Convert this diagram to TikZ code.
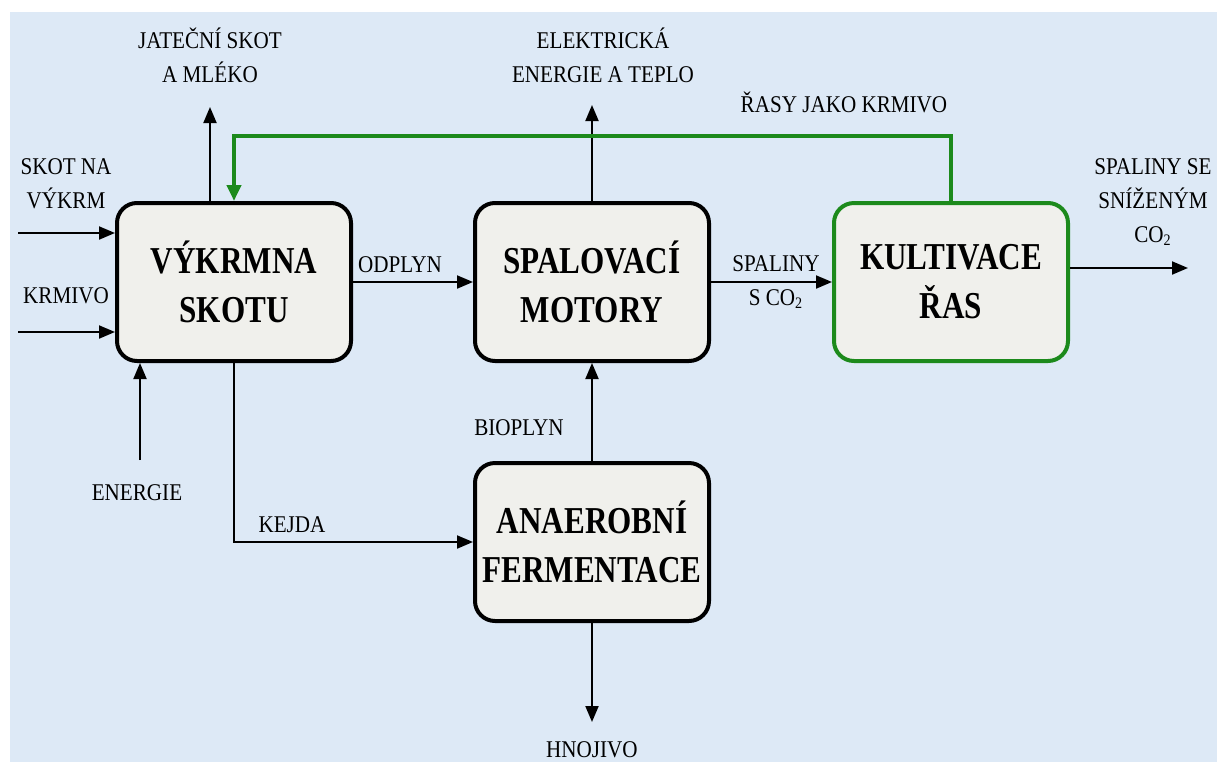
\documentclass[tikz,border=0pt]{standalone}
\usepackage{fontspec}
\setmainfont{Liberation Serif}
\usetikzlibrary{arrows.meta}
\definecolor{bgblue}{RGB}{221,233,246}
\definecolor{boxfill}{RGB}{240,240,236}
\definecolor{algae}{RGB}{28,138,28}
\begin{document}
\begin{tikzpicture}[x=0.5pt,y=-0.5pt,
  proc/.style={draw=black, line width=2pt, rounded corners=10pt, fill=boxfill,
    minimum width=117pt, minimum height=79pt, align=center, inner sep=0pt,
    font=\bfseries\fontsize{19}{24.5}\selectfont},
  lbl/.style={align=center, inner sep=0pt, font=\fontsize{12}{17}\selectfont},
  flow/.style={line width=1pt, -{Triangle[length=8pt,width=6.5pt]}},
  feed/.style={draw=algae, line width=2pt, -{Triangle[length=8pt,width=7pt]}}]
\useasboundingbox (0,0) rectangle (1217,762);
\fill[white] (0,0) rectangle (1217,762);
\fill[bgblue] (10,12) rectangle (1217,762);

% process boxes
\node[proc] (b1) at (234,282) {\scalebox{0.82}[1]{VÝKRMNA}\\\scalebox{0.82}[1]{SKOTU}};
\node[proc] (b2) at (592,282) {\scalebox{0.82}[1]{SPALOVACÍ}\\\scalebox{0.82}[1]{MOTORY}};
\node[proc, draw=algae] (b3) at (951,282) {\scalebox{0.82}[1]{KULTIVACE}\\\scalebox{0.82}[1]{ŘAS}};
\node[proc] (b4) at (592,542) {\scalebox{0.82}[1]{ANAEROBNÍ}\\\scalebox{0.82}[1]{FERMENTACE}};

% labels
\node[lbl] (jat) at (210,55) {\scalebox{0.88}[1]{JATEČNÍ SKOT}\\\scalebox{0.88}[1]{A MLÉKO}};
\node[lbl] (el) at (603,55) {\scalebox{0.88}[1]{ELEKTRICKÁ}\\\scalebox{0.88}[1]{ENERGIE A TEPLO}};
\node[lbl] (ras) at (844,102) {\scalebox{0.88}[1]{ŘASY JAKO KRMIVO}};
\node[lbl] (skot) at (66,184) {\scalebox{0.88}[1]{SKOT NA}\\\scalebox{0.88}[1]{VÝKRM}};
\node[lbl] (krm) at (66,296) {\scalebox{0.88}[1]{KRMIVO}};
\node[lbl] (odp) at (400,265) {\scalebox{0.88}[1]{ODPLYN}};
\node[lbl] (spal) at (776,282) {\scalebox{0.88}[1]{SPALINY}\\\scalebox{0.88}[1]{S CO\textsubscript{2}}};
\node[lbl] (outl) at (1153,202) {\scalebox{0.88}[1]{SPALINY SE}\\\scalebox{0.88}[1]{SNÍŽENÝM}\\\scalebox{0.88}[1]{CO\textsubscript{2}}};
\node[lbl] (en) at (137,493) {\scalebox{0.88}[1]{ENERGIE}};
\node[lbl] (kej) at (292,525) {\scalebox{0.88}[1]{KEJDA}};
\node[lbl] (bio) at (519,428) {\scalebox{0.88}[1]{BIOPLYN}};
\node[lbl] (hno) at (592,750) {\scalebox{0.88}[1]{HNOJIVO}};

% free ends
\coordinate (in1) at (18,233);
\coordinate (in2) at (18,332);
\coordinate (jtip) at (210,107);
\coordinate (eltip) at (592,105);
\coordinate (g) at (234,136);
\coordinate (outtip) at (1188,268);
\coordinate (enbase) at (140,460);
\coordinate (htip) at (592,722);

% connectors
\draw[flow] (in1) -- (in1 -| b1.west);
\draw[flow] (in2) -- (in2 -| b1.west);
\draw[flow] (jtip |- b1.north) -- (jtip);
\draw[flow] (b2.north) -- (eltip);
\draw[feed] (b3.north) |- (g) -- (b1.north);
\draw[flow] (b1.east) -- (b2.west);
\draw[flow] (b2.east) -- (b3.west);
\draw[flow] (b3.east |- outtip) -- (outtip);
\draw[flow] (enbase) -- (enbase |- b1.south);
\draw[flow] (b1.south) |- (b4.west);
\draw[flow] (b4.north) -- (b2.south);
\draw[flow] (b4.south) -- (htip);
\end{tikzpicture}
\end{document}
